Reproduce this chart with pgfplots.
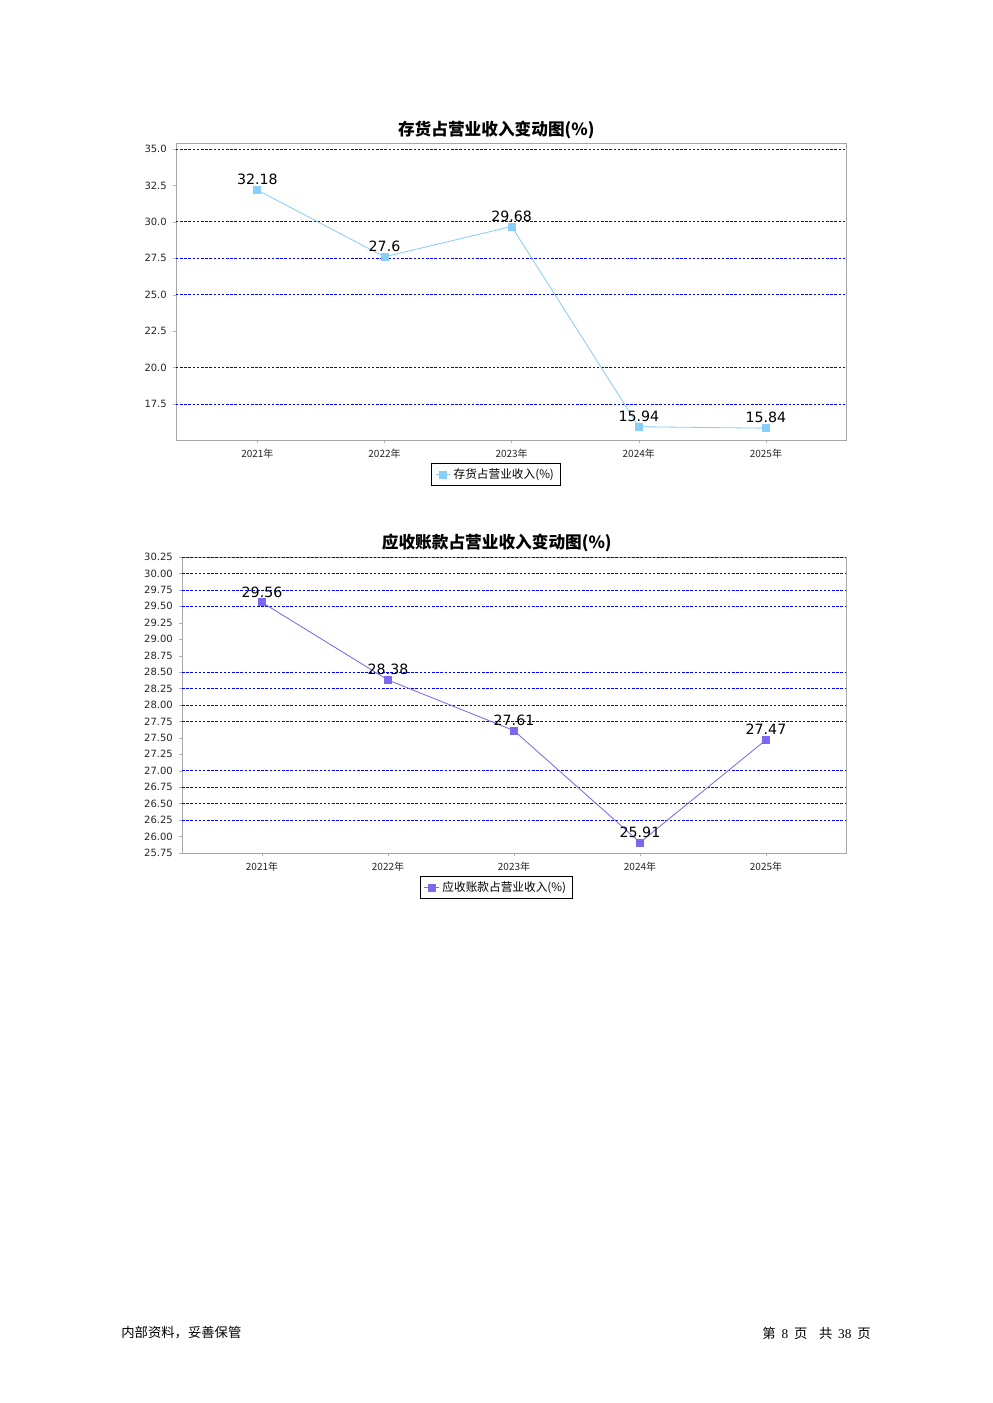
\documentclass[border=0pt]{standalone}
\usepackage{fontspec}
\setmainfont{DejaVu Sans}
\newfontfamily\cjk{Noto Sans CJK SC}
\newfontfamily\serifnum{Liberation Serif}
\usepackage{pgfplots}
\pgfplotsset{compat=1.18}
\definecolor{lineA}{HTML}{87CEFA}
\definecolor{lineB}{HTML}{7B68EE}
\pgfplotsset{mychart/.style={
  scale only axis,
  xmin=-0.64, xmax=4.63,
  xtick={0,1,2,3,4},
  xticklabels={{\cjk 2021年},{\cjk 2022年},{\cjk 2023年},{\cjk 2024年},{\cjk 2025年}},
  tick label style={font=\fontsize{6}{7}\selectfont, text=black!85},
  axis line style={draw=gray!70},
  tick style={draw=gray!60},
  tick align=outside, major tick length=2pt,
  xtick pos=bottom, ytick pos=left,
  /pgf/number format/assume math mode=true,
  major grid style={blue, line width=0.4pt, dash pattern=on 1.5pt off 1pt},
  extra y tick labels={},
  extra y tick style={grid=major, major tick length=0pt},
  nodes near coords,
  nodes near coords style={font=\fontsize{8.5}{9}\selectfont, text=black, anchor=south, inner sep=1pt, yshift=1.8pt},
  legend style={font=\cjk\fontsize{7}{8}\selectfont, draw=black, line width=0.6pt, inner xsep=2pt, inner ysep=1pt, anchor=north},
  legend image code/.code={\draw[mark repeat=2,mark phase=2,#1] plot coordinates {(0cm,0cm) (0.15cm,0cm) (0.3cm,0cm)};},
  title style={font=\cjk\bfseries\fontsize{10}{11}\selectfont, anchor=center},
}}
\begin{document}
\begin{tikzpicture}
\path[fill=white] (0pt,0pt) rectangle (595.2pt,841.8pt);

\begin{axis}[mychart,
  at={(105.6pt,577.8pt)}, anchor=south west,
  width=402pt, height=178.2pt,
  ymin=15.03, ymax=35.41,
  ytick={17.5,20,22.5,25,27.5,30,32.5,35},
  yticklabel style={/pgf/number format/.cd, fixed, fixed zerofill, precision=1},
  extra y ticks={17.5,20,25,27.5,30,35},
  title={存货占营业收入变动图(\%)},
  title style={at={(0.478,1)}, yshift=1.8pt},
  legend style={at={(0.478,-0.0775)}},
]
\addplot[color=lineA, line width=0.5pt, mark=square*, mark size=2.1pt, mark options={fill=lineA, draw=lineA}]
  coordinates {(0,32.18) (1,27.6) (2,29.68) (3,15.94) (4,15.84)};
\addlegendentry{存货占营业收入(\%)}
\end{axis}

\begin{axis}[mychart,
  at={(109.2pt,330pt)}, anchor=south west,
  width=398.4pt, height=177.6pt,
  xmin=-0.635, xmax=4.635,
  ymin=25.75, ymax=30.25,
  ytick={25.75,26,26.25,26.5,26.75,27,27.25,27.5,27.75,28,28.25,28.5,28.75,29,29.25,29.5,29.75,30,30.25},
  yticklabel style={/pgf/number format/.cd, fixed, fixed zerofill, precision=2},
  extra y ticks={26.25,26.5,26.75,27,27.75,28,28.25,28.5,29.5,29.75,30,30.25},
  title={应收账款占营业收入变动图(\%)},
  title style={at={(0.474,1)}, yshift=2.4pt},
  legend style={at={(0.474,-0.077)}},
]
\addplot[color=lineB, line width=0.5pt, mark=square*, mark size=2.1pt, mark options={fill=lineB, draw=lineB}]
  coordinates {(0,29.56) (1,28.38) (2,27.61) (3,25.91) (4,27.47)};
\addlegendentry{应收账款占营业收入(\%)}
\end{axis}

\node[anchor=west, font=\cjk\fontsize{8}{9}\selectfont, inner sep=0pt] at (72.6pt,42pt) {内部资料，妥善保管};
\node[anchor=east, font=\fontsize{8}{9}\selectfont, inner sep=0pt] at (522.6pt,42pt)
  {{\cjk 第}\hspace{3.5pt}{\serifnum 8}\hspace{3.5pt}{\cjk 页}\hspace{7pt}{\cjk 共}\hspace{3.5pt}{\serifnum 38}\hspace{3.5pt}{\cjk 页}};
\end{tikzpicture}
\end{document}
